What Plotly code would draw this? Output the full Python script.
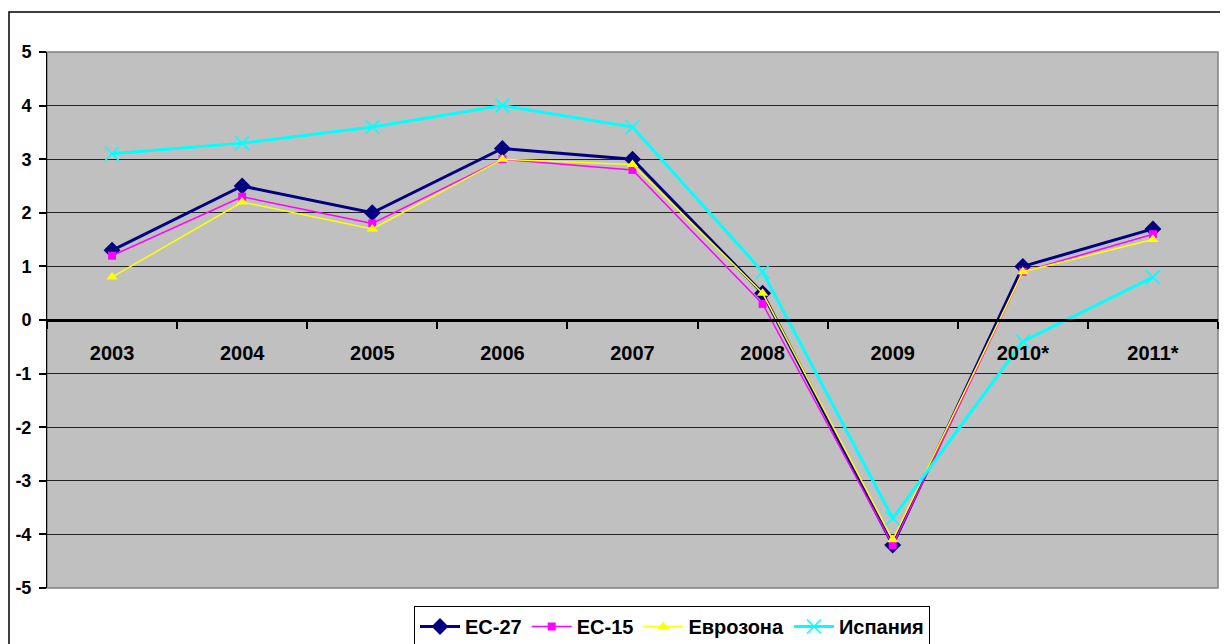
import plotly.graph_objects as go

years = ["2003", "2004", "2005", "2006", "2007", "2008", "2009", "2010*", "2011*"]
ec27 = [1.3, 2.5, 2.0, 3.2, 3.0, 0.5, -4.2, 1.0, 1.7]
ec15 = [1.2, 2.3, 1.8, 3.0, 2.8, 0.3, -4.2, 0.9, 1.6]
eurozone = [0.8, 2.2, 1.7, 3.0, 2.9, 0.5, -4.1, 0.9, 1.5]
spain = [3.1, 3.3, 3.6, 4.0, 3.6, 0.9, -3.7, -0.4, 0.8]
y_ticks = [-5, -4, -3, -2, -1, 0, 1, 2, 3, 4, 5]
y_labels = ["-5", "-4", "-3", "-2", "-1", "0", "1", "2", "3", "4", "5"]

W, H = 1228, 644
OFF = 8  # page body margin
L, R, T, B = 47 - OFF, 18, 52 - OFF, 64
pw = W - L - R
ph = H - T - B

FONT = "Liberation Sans, Arial, sans-serif"

fig = go.Figure()
fig.add_trace(go.Scatter(
    x=years, y=ec27, name="ЕС-27", mode="lines+markers",
    line=dict(color="#000080", width=3),
    marker=dict(symbol="diamond", size=13, color="#000080")))
fig.add_trace(go.Scatter(
    x=years, y=ec15, name="ЕС-15", mode="lines+markers",
    line=dict(color="#FF00FF", width=1.5),
    marker=dict(symbol="square", size=8, color="#FF00FF")))
fig.add_trace(go.Scatter(
    x=years, y=eurozone, name="Еврозона", mode="lines+markers",
    line=dict(color="#FFFF00", width=1.5),
    marker=dict(symbol="triangle-up", size=10, color="#FFFF00")))
fig.add_trace(go.Scatter(
    x=years, y=spain, name="Испания", mode="lines+markers",
    line=dict(color="#00FFFF", width=3),
    marker=dict(symbol="x-thin", size=14, color="#00FFFF",
                line=dict(color="#00FFFF", width=1.5))))

# outer chart border
fig.add_shape(type="rect", xref="paper", yref="paper",
              x0=(1 - L) / pw, x1=(W + 20 - L) / pw,
              y0=(H - B - (H + 20)) / ph, y1=(H - B - (12 - OFF)) / ph,
              line=dict(color="black", width=1.5), fillcolor="rgba(0,0,0,0)",
              layer="above")
# plot area border (gray)
fig.add_shape(type="rect", xref="paper", yref="paper",
              x0=0, x1=1, y0=0, y1=1,
              line=dict(color="#808080", width=1.5), fillcolor="rgba(0,0,0,0)",
              layer="below")

fig.update_layout(
    width=W, height=H,
    margin=dict(l=L, r=R, t=T, b=B, autoexpand=False),
    paper_bgcolor="white",
    plot_bgcolor="#C0C0C0",
    font=dict(family=FONT, color="black"),
    showlegend=True,
    legend=dict(
        orientation="h", x=(672 - OFF - L) / pw, xanchor="center",
        y=(H - B - (606 - OFF)) / ph, yanchor="top",
        bgcolor="white", bordercolor="black", borderwidth=1,
        font=dict(family=FONT, size=20, weight="bold", color="black"),
        itemwidth=40, tracegroupgap=0,
    ),
    xaxis=dict(
        type="category", range=[-0.5, 8.5], automargin=False,
        anchor="free", position=0.5,
        showline=True, linecolor="black", linewidth=3,
        ticks="outside", tickson="boundaries", ticklen=7, tickwidth=2, tickcolor="black",
        showgrid=False, zeroline=False,
        tickfont=dict(family=FONT, size=20, weight="bold", color="black"),
        ticklabelstandoff=14,
    ),
    yaxis=dict(
        range=[-5, 5], tickvals=y_ticks, ticktext=y_labels, automargin=False,
        showline=True, linecolor="black", linewidth=1,
        ticks="outside", ticklen=7, tickwidth=1.5, tickcolor="black",
        showgrid=True, gridcolor="#222222", gridwidth=1.3,
        zeroline=False,
        tickfont=dict(family=FONT, size=18, weight="bold", color="black"),
        ticklabelstandoff=4,
    ),
)

fig.write_html("out.html")
